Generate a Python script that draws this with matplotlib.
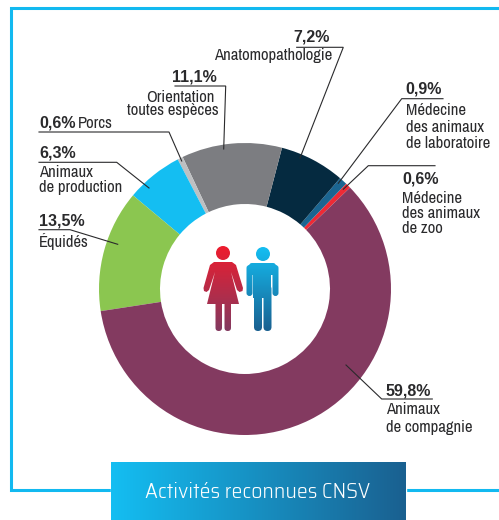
import numpy as np
import matplotlib
matplotlib.use("Agg")
import matplotlib.pyplot as plt
from matplotlib.colors import LinearSegmentedColormap
from matplotlib.patches import Polygon, Circle, FancyBboxPatch

# counter-clockwise from the maroon/red boundary
categories = ["Médecine des animaux de zoo", "Médecine des animaux de laboratoire", "Anatomopathologie",
              "Orientation toutes espèces", "Porcs", "Animaux de production", "Équidés", "Animaux de compagnie"]
shares = [0.6, 0.9, 7.2, 11.1, 0.6, 6.3, 13.5, 59.8]
colors = ["#EE2A35", "#1B6591", "#052A40", "#7C7D81", "#BEC0C2", "#14BEF2", "#8BC650", "#833A60"]
title = "Activités reconnues CNSV"

W, H = 499, 520
CYAN = "#12B9F0"
INK = "#2A2A2C"
NARROW = ["Archivo Narrow", "Liberation Sans", "DejaVu Sans"]
plt.rcParams["font.family"] = NARROW

fig = plt.figure(figsize=(W / 100, H / 100), dpi=100, facecolor="white")

# donut, axes box = outer circle
cx, cy, R = 245, 289, 146
ax_pie = fig.add_axes([(cx - R) / W, (H - cy - R) / H, 2 * R / W, 2 * R / H])
ax_pie.pie(shares, colors=colors, startangle=44, counterclock=True, radius=1,
           wedgeprops=dict(width=61 / 146, linewidth=0))
ax_pie.set_xlim(-1, 1)
ax_pie.set_ylim(-1, 1)

# overlay in pixel coordinates of the picture
ax = fig.add_axes([0, 0, 1, 1])
ax.set_xlim(0, W)
ax.set_ylim(H, 0)
ax.patch.set_alpha(0)
ax.axis("off")

# frame
ax.plot([499, 11, 11, 111], [8, 8, 490, 490], color=CYAN, lw=2.2, solid_joinstyle="miter")
ax.plot([406, 499], [490, 490], color=CYAN, lw=2.2)


def gradient(shapes, c0, c1, y0, y1, x0=0, x1=W, horizontal=False):
    cmap = LinearSegmentedColormap.from_list("g", [c0, c1])
    grad = np.linspace(0, 1, 256)
    grad = grad.reshape(1, -1) if horizontal else grad.reshape(-1, 1)
    for s in shapes:
        ax.add_patch(s)
        s.set_visible(False)
        im = ax.imshow(grad, cmap=cmap, extent=[x0, x1, y1, y0], aspect="auto", zorder=3)
        im.set_clip_path(s.get_path(), s.get_transform())
    ax.set_xlim(0, W)
    ax.set_ylim(H, 0)


def limb(x, y, w, h):
    r = w / 2
    return FancyBboxPatch((x + r, y + r), w - 2 * r, h - 2 * r,
                          boxstyle=f"round,pad={r},rounding_size={r}", transform=ax.transData)


# banner
ax.add_patch(plt.Rectangle((111, 462), 295, 58, color="white", zorder=2))
banner = plt.Rectangle((111, 462), 295, 58)
gradient([banner], "#14BEF2", "#1A6090", 462, 520, 111, 406, horizontal=True)
ax.text(258, 492.5, title, color="white", fontsize=15.7, ha="center", va="center", zorder=4,
        family=["Saira SemiCondensed", "Roboto", "DejaVu Sans"], fontweight=300)

# woman
woman = [Circle((223, 253), 7),
         Polygon([(214, 262), (232, 262), (236, 265), (243, 288), (242.5, 291), (239.5, 292), (237, 290),
                  (231, 272), (239, 304), (207, 304), (215, 272), (209, 290), (206.5, 292), (204, 291),
                  (203.5, 288), (210, 265)]),
         limb(215.5, 300, 6.5, 31), limb(224.5, 300, 6.5, 31)]
gradient(woman, "#EE1C2E", "#833A60", 246, 331)

# man
man = [Circle((263, 254), 7),
       FancyBboxPatch((252, 266), 21, 6, boxstyle="round,pad=3,rounding_size=3", transform=ax.transData),
       limb(246.5, 265, 6, 31), limb(272.5, 265, 6, 31),
       plt.Rectangle((253.5, 263), 18, 35),
       limb(254, 285, 8, 46), limb(263.5, 285, 8, 46)]
gradient(man, "#14BEF2", "#1A6090", 247, 331)

# leader lines
leaders = [
    [(175, 86), (225.7, 86), (223.7, 149)],
    [(39, 132), (169, 132), (181.7, 161)],
    [(39, 162.3), (116.7, 162.3), (149, 188)],
    [(39, 229.7), (70, 229.7), (117.7, 244.3)],
    [(296.7, 47.3), (343.3, 47.3), (300, 158)],
    [(443, 98.7), (401.7, 98.7), (338.3, 183.3)],
    [(435, 165.7), (368.3, 165.7), (343.3, 189.3)],
    [(432.3, 399), (381.7, 399), (346, 365)],
]
for pts in leaders:
    xs, ys = zip(*pts)
    ax.plot(xs, ys, color=INK, lw=0.8, solid_joinstyle="miter", zorder=5)


def pct(x, y, s, ha="left"):
    ax.text(x, y, s, fontsize=11.5, fontweight="bold", color=INK, ha=ha, va="baseline", zorder=6,
            family=["Liberation Sans", "DejaVu Sans"])


def lab(x, y, s, ha="left"):
    ax.text(x, y, s, fontsize=12, color=INK, ha=ha, va="baseline", zorder=6)


pct(293, 41, "7,2%")
lab(332, 60, "Anatomopathologie", ha="right")
pct(172, 82, "11,1%")
lab(215, 102, "Orientation", ha="right")
lab(219, 115, "toutes espèces", ha="right")
pct(39, 128, "0,6%")
lab(78, 128, "Porcs")
pct(39, 158, "6,3%")
lab(39, 177, "Animaux")
lab(39, 192, "de production")
pct(39, 226, "13,5%")
lab(39, 247, "Équidés")
pct(405, 94, "0,9%")
lab(406, 115, "Médecine")
lab(406, 132, "des animaux")
lab(406, 148, "de laboratoire")
pct(402, 184, "0,6%")
lab(402, 203, "Médecine")
lab(402, 218, "des animaux")
lab(402, 233, "de zoo")
pct(386, 395, "59,8%")
lab(386, 414, "Animaux")
lab(386, 432, "de compagnie")

fig.savefig("out.png", dpi=100)
